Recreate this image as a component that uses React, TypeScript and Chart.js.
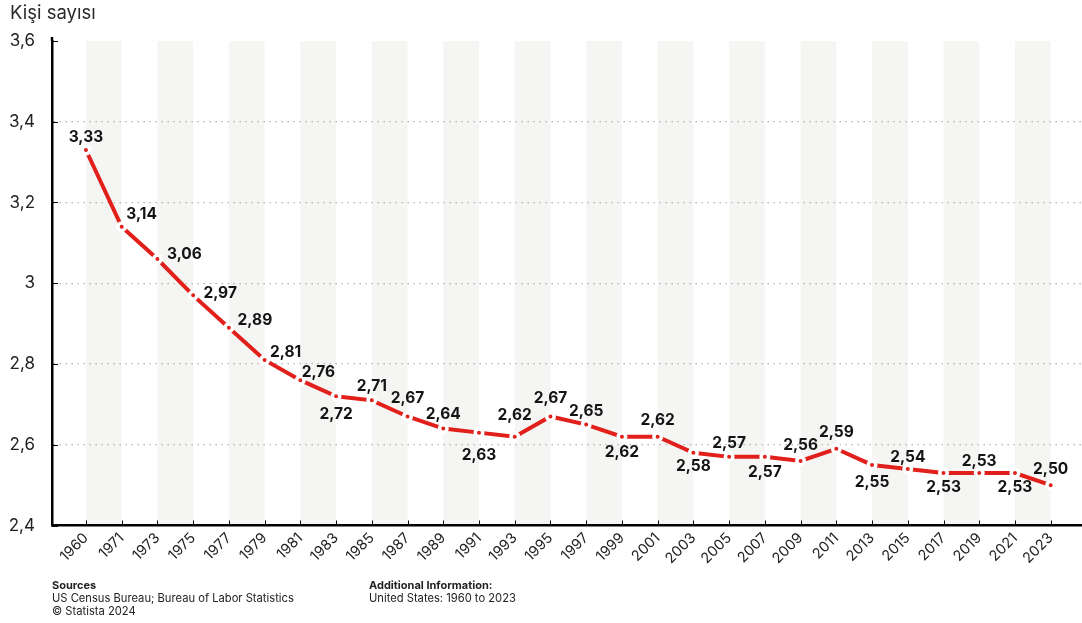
import React, { useEffect, useRef } from "react";
import { Chart, registerables } from "chart.js";

Chart.register(...registerables);

// ---- data ----
const YEARS: string[] = [
  "1960", "1971", "1973", "1975", "1977", "1979", "1981", "1983", "1985", "1987",
  "1989", "1991", "1993", "1995", "1997", "1999", "2001", "2003", "2005", "2007",
  "2009", "2011", "2013", "2015", "2017", "2019", "2021", "2023",
];
const HOUSEHOLD_SIZE: number[] = [
  3.33, 3.14, 3.06, 2.97, 2.89, 2.81, 2.76, 2.72, 2.71, 2.67,
  2.64, 2.63, 2.62, 2.67, 2.65, 2.62, 2.62, 2.58, 2.57, 2.57,
  2.56, 2.59, 2.55, 2.54, 2.53, 2.53, 2.53, 2.5,
];
const Y_TICKS: number[] = [2.4, 2.6, 2.8, 3.0, 3.2, 3.4, 3.6];
// label placement relative to its point (dx, dy in px)
const LABEL_OFFSETS: [number, number][] = [
  [0, -13], [20, -12], [27, -5], [27, -2], [26, -7], [21, -8], [18, -8], [0, 18], [0, -14], [0, -18],
  [0, -14], [0, 23], [0, -21], [0, -18], [0, -13], [0, 16], [0, -16], [0, 14], [0, -14], [0, 15],
  [0, -16], [0, -16], [0, 17], [0, -12], [0, 14], [0, -12], [0, 14], [0, -16],
];
const Y_TITLE = "Kişi sayısı";
const SOURCES_TITLE = "Sources";
const SOURCES_LINES = ["US Census Bureau; Bureau of Labor Statistics", "© Statista 2024"];
const INFO_TITLE = "Additional Information:";
const INFO_LINES = ["United States: 1960 to 2023"];

const FONT = 'Inter, "Noto Sans", "DejaVu Sans", sans-serif';
const RED = "#e1201b";
const fmt = (v: number) => (Math.round(v * 100) / 100).toString().replace(".", ",");
const fmt2 = (v: number) => v.toFixed(2).replace(".", ",");

const decorPlugin = {
  id: "decor",
  beforeDraw(chart: any) {
    const { ctx, chartArea } = chart;
    const x = chart.scales.x;
    ctx.save();
    ctx.fillStyle = "#f5f5f3";
    for (let i = 0; i + 1 < YEARS.length; i += 2) {
      const x1 = x.getPixelForValue(i);
      const x2 = x.getPixelForValue(i + 1);
      ctx.fillRect(x1, chartArea.top, x2 - x1, chartArea.bottom - chartArea.top);
    }
    ctx.restore();
  },
  afterDatasetsDraw(chart: any) {
    const { ctx } = chart;
    const meta = chart.getDatasetMeta(0);
    ctx.save();
    ctx.font = `bold 15.5px ${FONT}`;
    ctx.fillStyle = "#141414";
    ctx.textAlign = "center";
    ctx.textBaseline = "middle";
    meta.data.forEach((pt: any, i: number) => {
      const [dx, dy] = LABEL_OFFSETS[i] || [0, -14];
      ctx.fillText(fmt2(HOUSEHOLD_SIZE[i]), pt.x + dx, pt.y + dy);
    });
    ctx.restore();
  },
  afterDraw(chart: any) {
    const { ctx, chartArea } = chart;
    const x = chart.scales.x;
    const y = chart.scales.y;
    ctx.save();
    // axis extension and tick marks
    ctx.strokeStyle = "#000";
    ctx.lineWidth = 2.5;
    ctx.beginPath();
    ctx.moveTo(chartArea.left, chartArea.top - 4);
    ctx.lineTo(chartArea.left, chartArea.top);
    ctx.stroke();
    ctx.lineWidth = 1;
    Y_TICKS.forEach((v) => {
      const py = Math.round(y.getPixelForValue(v)) + 0.5;
      ctx.beginPath();
      ctx.moveTo(chartArea.left, py);
      ctx.lineTo(chartArea.left + 6, py);
      ctx.stroke();
    });
    YEARS.forEach((_, i) => {
      const px = Math.round(x.getPixelForValue(i)) + 0.5;
      ctx.beginPath();
      ctx.moveTo(px, chartArea.bottom);
      ctx.lineTo(px, chartArea.bottom - 5);
      ctx.stroke();
    });
    // title
    ctx.fillStyle = "#2a2a2a";
    ctx.textAlign = "left";
    ctx.textBaseline = "middle";
    ctx.font = `18.5px ${FONT}`;
    ctx.fillText(Y_TITLE, 10, 13);
    // footer
    ctx.fillStyle = "#222";
    ctx.font = `bold 11px ${FONT}`;
    ctx.fillText(SOURCES_TITLE, 52, 586);
    ctx.fillText(INFO_TITLE, 369, 586);
    ctx.font = `11.2px ${FONT}`;
    SOURCES_LINES.forEach((t, i) => ctx.fillText(t, 52, 599 + i * 13));
    INFO_LINES.forEach((t, i) => ctx.fillText(t, 369, 599 + i * 13));
    ctx.restore();
  },
};

export default function App() {
  const ref = useRef<HTMLCanvasElement | null>(null);
  useEffect(() => {
    if (!ref.current) return;
    Chart.defaults.font.family = FONT;
    const chart = new Chart(ref.current, {
      type: "line",
      data: {
        datasets: [
          {
            data: HOUSEHOLD_SIZE.map((v, i) => ({ x: i, y: v })),
            borderColor: RED,
            borderWidth: 4,
            tension: 0,
            pointRadius: 3.75,
            pointBorderWidth: 3.5,
            pointBackgroundColor: RED,
            pointBorderColor: "#ffffff",
            clip: false as any,
          },
        ],
      },
      options: {
        animation: false,
        responsive: false,
        layout: { autoPadding: false, padding: { top: 41, left: 0, right: 0, bottom: 47.5 } },
        plugins: { legend: { display: false }, tooltip: { enabled: false }, title: { display: false } },
        scales: {
          x: {
            type: "linear",
            min: -0.95,
            max: 27.876,
            afterBuildTicks: (s: any) => {
              s.ticks = YEARS.map((_, i) => ({ value: i }));
            },
            afterFit: (s: any) => {
              s.height = 50;
            },
            ticks: {
              autoSkip: false,
              minRotation: 45,
              maxRotation: 45,
              padding: 4,
              color: "#222",
              font: { size: 14.5, family: FONT },
              callback: (v: any) => YEARS[v as number],
            },
            grid: { display: false, drawTicks: false },
            border: { display: true, color: "#000", width: 2.5 },
          },
          y: {
            type: "linear",
            min: 2.4,
            max: 3.6,
            afterBuildTicks: (s: any) => {
              s.ticks = Y_TICKS.map((v) => ({ value: v }));
            },
            afterFit: (s: any) => {
              s.width = 52;
            },
            ticks: {
              padding: 17,
              color: "#222",
              font: { size: 17, family: FONT },
              callback: (v: any) => fmt(v as number),
            },
            grid: {
              drawTicks: false,
              lineWidth: 1.3,
              color: (c: any) =>
                c.tick && (Math.abs(c.tick.value - 2.4) < 1e-6 || Math.abs(c.tick.value - 3.6) < 1e-6)
                  ? "rgba(0,0,0,0)"
                  : "#a8a8a8",
            },
            border: { display: true, color: "#000", width: 2.5, dash: [1.3, 4.7] },
          },
        },
      },
      plugins: [decorPlugin],
    });
    return () => chart.destroy();
  }, []);
  return (
    <div style={{ position: "fixed", left: 0, top: 0, width: 1082, height: 623, background: "#fff" }}>
      <canvas ref={ref} width={1082} height={623} style={{ display: "block" }} />
    </div>
  );
}
